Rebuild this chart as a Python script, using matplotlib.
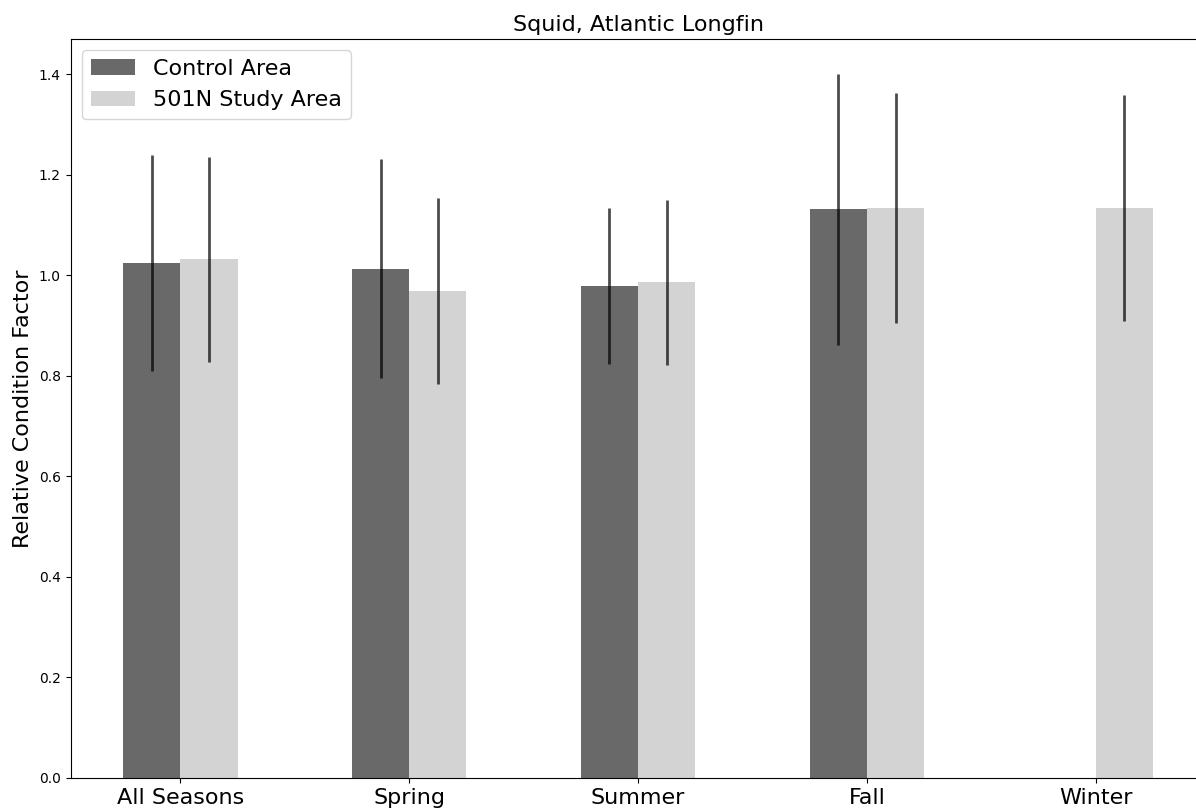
import numpy as np
import matplotlib.pyplot as plt

# values
seasons = ['All Seasons', 'Spring', 'Summer', 'Fall', 'Winter']
control = [1.024, 1.013, 0.978, 1.131, np.nan]
control_err = [0.215, 0.218, 0.155, 0.270, np.nan]
study = [1.032, 0.969, 0.986, 1.134, 1.134]
study_err = [0.204, 0.185, 0.164, 0.228, 0.225]

fig = plt.figure(figsize=(11.96, 8.11), dpi=100)
# axes run a little past the right edge, as in the original (cropped) image
ax = fig.add_axes([0.059, 0.0407, 0.949, 0.9112])

x = np.arange(len(seasons))
w = 0.25
ax.bar(x - w/2, control, w, color='dimgray', label='Control Area')
ax.bar(x + w/2, study, w, color='lightgray', label='501N Study Area')
ax.errorbar(x - w/2, control, yerr=control_err, fmt='none', ecolor='black', alpha=0.7, elinewidth=2)
ax.errorbar(x + w/2, study, yerr=study_err, fmt='none', ecolor='black', alpha=0.7, elinewidth=2)

ax.set_xticks(x)
ax.set_xticklabels(seasons, fontsize=16)
ax.tick_params(axis='y', labelsize=10)
ax.set_xlim(-0.48, 4.48)
ax.set_ylim(0, 1.47)
ax.set_ylabel('Relative Condition Factor', fontsize=16)
ax.set_title('Squid, Atlantic Longfin', fontsize=16)
ax.legend(loc='upper left', fontsize=16)

fig.savefig('out.png', dpi=100)
